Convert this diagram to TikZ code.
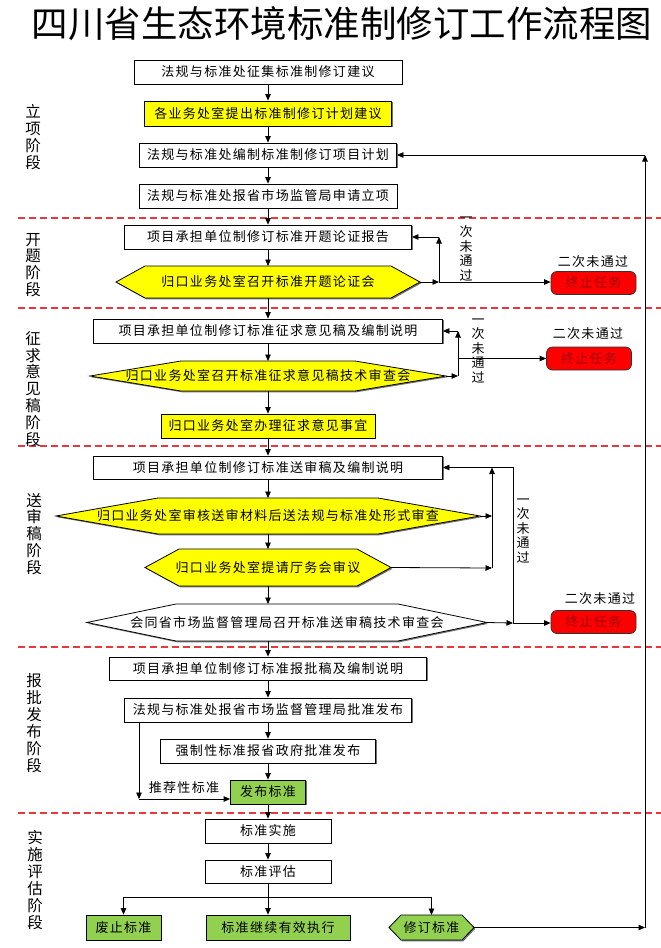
\documentclass[tikz,border=0pt]{standalone}
\usepackage{fontspec}
\setmainfont{Noto Sans CJK SC}
\newfontfamily\cjkls[LetterSpace=10]{Noto Sans CJK SC}
\newfontfamily\cjkpl{Noto Sans CJK SC}
\newcommand{\bxf}{\cjkls\fontsize{13}{15}\selectfont}
\usetikzlibrary{arrows.meta,shadows}
\definecolor{yel}{HTML}{FFFF00}
\definecolor{grn}{HTML}{92D050}
\definecolor{stopred}{HTML}{FF0000}
\definecolor{stoptxt}{HTML}{A00000}
\definecolor{sepred}{HTML}{E8383D}
\newcommand{\hexnode}[9]{%
  \draw[hexst, fill=#8] (#2,{(#6+#7)/2}) -- (#3,#6) -- (#4,#6) -- (#5,{(#6+#7)/2}) -- (#4,#7) -- (#3,#7) -- cycle;
  \node[txt] (#1) at ({(#2+#5)/2},{(#6+#7)/2}) {#9};
  \coordinate (#1W) at (#2,{(#6+#7)/2});
  \coordinate (#1E) at (#5,{(#6+#7)/2});
  \coordinate (#1N) at ({(#2+#5)/2},#6);
  \coordinate (#1S) at ({(#2+#5)/2},#7);}
\begin{document}
\begin{tikzpicture}[x=1pt,y=-1pt,
  arr/.style={-{Triangle[length=6.5pt,width=5.5pt]}, line width=0.8pt, draw=black},
  shd/.style={drop shadow={shadow xshift=1.3pt, shadow yshift=-1.3pt, fill=black!55, opacity=1}},
  box/.style={draw=black, line width=0.8pt, fill=white, inner sep=0pt, minimum height=24pt, font=\bxf, shd},
  hexst/.style={draw=black, line width=0.8pt, shd},
  txt/.style={font=\bxf, inner sep=0pt},
  stopbox/.style={draw=black!80, line width=0.8pt, fill=stopred, rounded corners=6pt, minimum width=85pt, minimum height=23pt, inner sep=0pt, text=stoptxt, font=\bxf},
  lbl/.style={font=\bxf, inner sep=0pt},
  vlbl/.style={font=\cjkpl\fontsize{13}{14.5}\selectfont, align=center, inner sep=0pt},
  stage/.style={font=\cjkpl\fontsize{15.5}{16.9}\selectfont, align=center, inner sep=0pt},
  sepline/.style={draw=sepred, dash pattern=on 7pt off 4pt, line width=1.1pt}]

\path[fill=white, use as bounding box] (0,0) rectangle (661,948);

% title
\node[font=\cjkpl\fontsize{36.5}{40}\selectfont, inner sep=0pt] (title) at (342,24) {四川省生态环境标准制修订工作流程图};

% stage separators
\foreach \yy in {218,308,446,647,813} \draw[sepline] (18,\yy) -- (661,\yy);

% stage labels
\node[stage] (st1) at (33,137) {立\\项\\阶\\段};
\node[stage] (st2) at (33,265) {开\\题\\阶\\段};
\node[stage] (st3) at (33,389) {征\\求\\意\\见\\稿\\阶\\段};
\node[stage] (st4) at (34,534) {送\\审\\稿\\阶\\段};
\node[stage] (st5) at (34,723) {报\\批\\发\\布\\阶\\段};
\node[stage] (st6) at (35,880) {实\\施\\评\\估\\阶\\段};

% main flow
\node[box, minimum width=268pt] (b1) at (268,72) {法规与标准处征集标准制修订建议};
\node[box, fill=yel, minimum width=247pt, minimum height=25pt] (b2) at (268,113.5) {各业务处室提出标准制修订计划建议};
\node[box, minimum width=257pt] (b3) at (268,155) {法规与标准处编制标准制修订项目计划};
\node[box, minimum width=258pt] (b4) at (268,196) {法规与标准处报省市场监管局申请立项};
\node[box, minimum width=287pt] (b5) at (268,237) {项目承担单位制修订标准开题论证报告};
\hexnode{h1}{116}{145}{391}{420}{266}{298}{yel}{归口业务处室召开标准开题论证会}
\node[box, minimum width=349pt] (b6) at (268,331) {项目承担单位制修订标准征求意见稿及编制说明};
\hexnode{h2}{90}{181}{355}{446}{361}{391}{yel}{归口业务处室召开标准征求意见稿技术审查会}
\node[box, fill=yel, minimum width=214pt] (b7) at (268,426) {归口业务处室办理征求意见事宜};
\node[box, minimum width=349pt, minimum height=23pt] (b8) at (268,467.5) {项目承担单位制修订标准送审稿及编制说明};
\hexnode{h3}{56}{158}{378}{480}{498}{534}{yel}{归口业务处室审核送审材料后送法规与标准处形式审查}
\hexnode{h4}{145}{179}{357}{391}{549}{586}{yel}{归口业务处室提请厅务会审议}
\hexnode{h5}{87}{176}{398}{487}{604}{641}{white}{会同省市场监督管理局召开标准送审稿技术审查会}
\node[box, minimum width=317pt, minimum height=23pt] (b9) at (268,668.5) {项目承担单位制修订标准报批稿及编制说明};
\node[box, minimum width=287pt] (b10) at (268,710) {法规与标准处报省市场监督管理局批准发布};
\node[box, minimum width=215pt] (b11) at (268,751) {强制性标准报省政府批准发布};
\node[box, fill=grn, minimum width=75pt] (b12) at (268,792) {发布标准};
\node[box, minimum width=126pt] (b13) at (268,831) {标准实施};
\node[box, minimum width=126pt, minimum height=23pt] (b14) at (268,871.5) {标准评估};
\node[box, fill=grn, minimum width=75pt, minimum height=25pt] (b15) at (123.5,927.5) {废止标准};
\node[box, fill=grn, minimum width=144pt, minimum height=25pt] (b16) at (278,927.5) {标准继续有效执行};
\hexnode{h6}{389}{401}{462}{474}{915}{940}{grn}{修订标准}

% stop boxes and labels
\node[stopbox] (s1) at (593.5,283) {终止任务};
\node[lbl] (l1) at (593,262) {二次未通过};
\node[stopbox] (s2) at (589,358.5) {终止任务};
\node[lbl] (l2) at (588,334) {二次未通过};
\node[stopbox] (s3) at (593.5,622) {终止任务};
\node[lbl] (l3) at (600,599) {二次未通过};
\node[vlbl] (v1) at (466,249) {一\\次\\未\\通\\过};
\node[vlbl] (v2) at (478,351) {一\\次\\未\\通\\过};
\node[vlbl] (v3) at (523,531) {一\\次\\未\\通\\过};
\node[lbl] (l4) at (184,788) {推荐性标准};

% main vertical connectors
\draw[arr] (b1) -- (b2);
\draw[arr] (b2) -- (b3);
\draw[arr] (b3) -- (b4);
\draw[arr] (b4) -- (b5);
\draw[arr] (b5.south) -- (b5.south |- h1N);
\draw[arr] (h1S) -- (h1S |- b6.north);
\draw[arr] (b6.south) -- (b6.south |- h2N);
\draw[arr] (h2S) -- (h2S |- b7.north);
\draw[arr] (b7) -- (b8);
\draw[arr] (b8.south) -- (b8.south |- h3N);
\draw[arr] (h3S) -- (h3S |- h4N);
\draw[arr] (h4S) -- (h4S |- h5N);
\draw[arr] (h4S |- h5S) -- (b9.north);
\draw[arr] (b9) -- (b10);
\draw[arr] (b10) -- (b11);
\draw[arr] (b11) -- (b12);
\draw[arr] (b12) -- (b13);
\draw[arr] (b13) -- (b14);

% open stage loop
\coordinate (j1) at (439,282);
\coordinate (j1u) at (439,237);
\draw[arr] (h1E) -- (j1);
\draw[arr] (j1) -- (j1u);
\draw[arr] (j1u) -- (b5.east);
\draw[arr] (j1) -- (s1.west |- j1);

% comment stage loop
\coordinate (j2) at (458,376);
\coordinate (j2u) at (458,331);
\coordinate (j2m) at (458,358.5);
\draw[arr] (h2E) -- (j2);
\draw[arr] (j2) -- (j2u);
\draw[arr] (j2u) -- (b6.east);
\draw[arr] (j2m) -- (s2.west |- j2m);

% review stage loops
\coordinate (k1) at (492,516);
\coordinate (k2) at (492,568);
\coordinate (k3) at (492,467.5);
\coordinate (m1) at (513,623);
\coordinate (m2) at (513,467.5);
\draw[arr] (h3E) -- (k1);
\draw[arr] (h4E) -- (k2);
\draw[arr] (k2) -- (k3);
\draw[arr] (m1) -- (m2) -- (b8.east);
\draw[arr] (h5E) -- (m1);
\draw[arr] (m1) -- (s3.west |- m1);

% recommended standard branch
\coordinate (r2) at (139,799);
\draw[arr] (b10.south -| r2) -- (r2);
\draw[arr] (r2) -- (r2 -| b12.west);

% evaluation split
\coordinate (sp) at (268,897);
\draw[line width=0.8pt] (b14.south) -- (sp);
\draw[line width=0.8pt] (b15.north |- sp) -- (h6N |- sp);
\draw[arr] (b15.north |- sp) -- (b15.north);
\draw[arr] (sp) -- (sp |- b16.north);
\draw[arr] (h6N |- sp) -- (h6N);

% return loop
\coordinate (q1) at (645,927.5);
\coordinate (q2) at (645,155);
\draw[arr] (h6E) -- (q1);
\draw[arr] (q1) -- (q2);
\draw[arr] (q2) -- (b3.east);
\end{tikzpicture}
\end{document}
